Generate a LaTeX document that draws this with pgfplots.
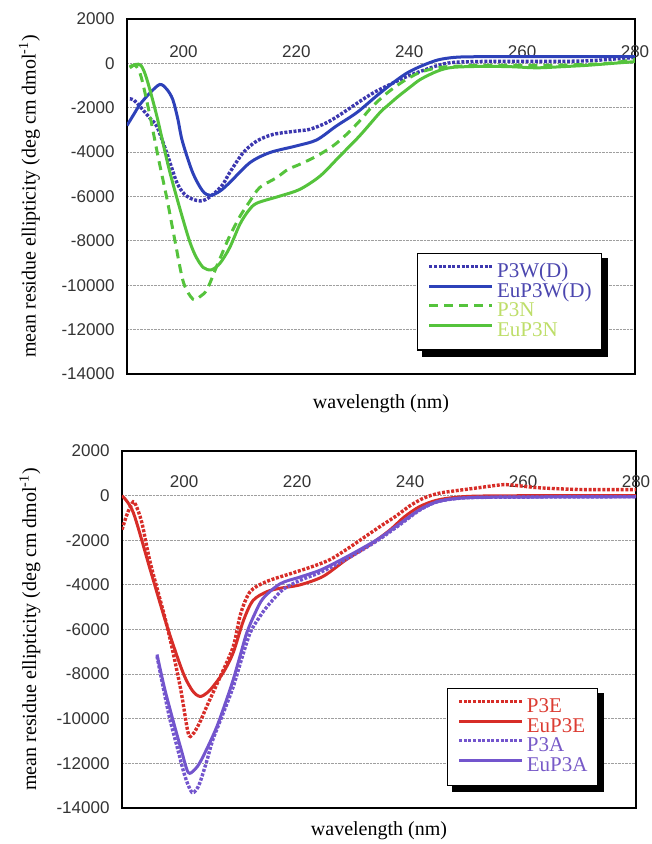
\documentclass[border=0pt]{standalone}
\usepackage{fontspec}
\setmainfont{Liberation Serif}
\newfontfamily\ticksans{Liberation Sans}
\usepackage{pgfplots}
\pgfplotsset{compat=1.18}

\definecolor{bluesolid}{RGB}{45,65,185}
\definecolor{bluedot}{RGB}{60,55,175}
\definecolor{bluetxt}{RGB}{75,70,175}
\definecolor{greenc}{RGB}{85,195,60}
\definecolor{greentxt}{RGB}{190,222,105}
\definecolor{redc}{RGB}{215,45,40}
\definecolor{redtxt}{RGB}{220,60,50}
\definecolor{purc}{RGB}{115,85,205}
\definecolor{purtxt}{RGB}{120,90,200}

\pgfplotsset{
  cdaxis/.style={
    scale only axis,
    anchor=north west,
    xmax=280,
    ymin=-14000, ymax=2000,
    ytick={-14000,-12000,-10000,-8000,-6000,-4000,-2000,0,2000},
    xtick={200,220,240,260,280},
    scaled y ticks=false,
    major tick length=0pt,
    /pgf/number format/1000 sep={},
    /pgf/number format/assume math mode=true,
    ticklabel style={font=\ticksans\fontsize{17}{17}\selectfont, text=black!80},
    xticklabel pos=upper,
    yticklabel style={xshift=-9pt},
    axis line style={line width=1.6pt},
    ymajorgrids,
    grid style={gray!75, densely dotted, line width=1pt},
    xlabel={wavelength (nm)},
    ylabel={mean residue ellipticity (deg cm dmol\textsuperscript{-1})},
    legend cell align=left,
    legend image code/.code={\draw[#1] (0pt,6pt) -- (63pt,6pt);},
    every axis plot/.append style={smooth, tension=0.5, line cap=butt},
  },
  cdlegend/.style={
    legend style={at={#1}, anchor=north west,
      draw=black, line width=1.3pt, fill=white,
      font=\fontsize{21}{21}\selectfont,
      inner xsep=10pt, inner ysep=10pt, row sep=1.5pt,
      nodes={inner sep=0pt, text height=14pt, text depth=4pt},
      /tikz/every odd column/.append style={column sep=3pt}},
  },
  dotline/.style={dash pattern=on 3pt off 1.6pt, line width=3.4pt},
  dashline/.style={dash pattern=on 9pt off 6pt, line width=3pt},
  solidline/.style={line width=3pt},
}

\begin{document}
\begin{tikzpicture}
\useasboundingbox (0,0) rectangle (652pt,-844pt);

% ---- top panel ----
\begin{axis}[
  cdaxis,
  at={(127pt,-19pt)},
  width=508pt, height=355pt,
  xmin=190,
  xticklabel style={anchor=base, inner sep=0pt, yshift=-38pt},
  every axis y label/.style={at={(axis description cs:-0.192,0.5)}, rotate=90, anchor=center, font=\fontsize{20}{20}\selectfont},
  every axis x label/.style={at={(axis description cs:0.5,0)}, yshift=-30pt, anchor=center, font=\fontsize{20}{20}\selectfont},
  cdlegend={(rel axis cs:0.571,0.341)},
  legend style={name=legA},
]
\addplot[bluedot, dotline] coordinates {
(190.5,-1600)(191.2,-1650)(192.5,-2000)(194,-2450)(195.3,-2850)(197,-4000)
(198.8,-5350)(200.2,-5900)(201.7,-6130)(203,-6200)(204,-6130)(205.5,-5850)
(207,-5450)(208.2,-4920)(210.6,-4020)(213,-3500)(215.9,-3200)(220,-3050)
(222.4,-2970)(225.4,-2670)(228.3,-2220)(231.8,-1620)(234.2,-1250)(237,-900)
(239.5,-600)(242,-360)(245,-100)(247.7,40)(253.7,90)(265,90)(272,120)(280,270)};
\addlegendentry{\textcolor{bluetxt}{P3W(D)}}
\addplot[bluesolid, solidline] coordinates {
(190,-2800)(191.2,-2300)(192.3,-1850)(194,-1350)(195.8,-950)(197,-1150)
(198.1,-1620)(199,-2500)(199.8,-3500)(201.6,-4900)(203.4,-5750)(204.8,-5950)
(206.5,-5750)(208.2,-5370)(211.8,-4470)(215.3,-4020)(220,-3720)(223.6,-3450)
(227.1,-2820)(230.7,-2220)(234.2,-1470)(237,-900)(239.5,-450)(242,-135)
(245,150)(248,270)(252,300)(265,300)(280,300)};
\addlegendentry{\textcolor{bluetxt}{EuP3W(D)}}
\addplot[greenc, dashline] coordinates {
(190.5,-150)(191.5,-100)(192.5,-600)(194.1,-2400)(195.5,-4200)(197.1,-6130)
(198.5,-8000)(200,-9870)(201.7,-10630)(203,-10500)(204.2,-10180)(205.9,-9140)
(207.3,-8300)(208.2,-7780)(210,-6900)(211.8,-6200)(213.5,-5600)(216.5,-5150)
(218.5,-4780)(220.6,-4550)(223.6,-4180)(226.5,-3720)(228.9,-3200)(231.2,-2600)
(233,-2070)(234.8,-1620)(236.5,-1250)(239,-800)(241.9,-405)(245,-200)
(247.7,-135)(253.7,-90)(265,-90)(275,0)(280,180)};
\addlegendentry{\textcolor{greentxt}{P3N}}
\addplot[greenc, solidline] coordinates {
(190.5,-200)(191.5,-50)(192.5,-100)(193.5,-700)(195.3,-2390)(197.6,-4910)
(200.6,-7620)(202,-8600)(203.5,-9200)(205,-9300)(206.5,-9000)(208.2,-8300)
(210,-7250)(211.5,-6650)(213,-6300)(217.1,-5980)(220.6,-5680)(224.2,-5080)
(227.7,-4180)(231.2,-3270)(234.8,-2220)(236,-1940)(238,-1500)(240,-1100)
(242,-720)(245,-350)(247.7,-180)(253,-135)(258,-150)(262.6,-200)
(267,-150)(271.4,-90)(276,0)(280,80)};
\addlegendentry{\textcolor{greentxt}{EuP3N}}
\end{axis}
% legend shadow (right and bottom strips)
\fill[black] ([yshift=-5pt]legA.north east) rectangle ([xshift=6pt,yshift=-6pt]legA.south east);
\fill[black] ([xshift=5pt]legA.south west) rectangle ([xshift=6pt,yshift=-6pt]legA.south east);

% ---- bottom panel ----
\begin{axis}[
  cdaxis,
  at={(122pt,-451pt)},
  width=514pt, height=357pt,
  xmin=189,
  xticklabel style={anchor=base, inner sep=0pt, yshift=-36pt},
  every axis y label/.style={at={(axis description cs:-0.179,0.5)}, rotate=90, anchor=center, font=\fontsize{20}{20}\selectfont},
  every axis x label/.style={at={(axis description cs:0.5,0)}, yshift=-23pt, anchor=center, font=\fontsize{20}{20}\selectfont},
  cdlegend={(rel axis cs:0.632,0.336)},
  legend style={name=legB},
]
\addplot[redc, dotline] coordinates {
(189,-1520)(189.8,-900)(190.5,-490)(191.2,-300)(192.5,-1200)(194,-3000)
(197,-5870)(199.3,-8560)(200.7,-10620)(201.5,-10700)(202.7,-10200)(204,-9450)
(206.4,-8110)(208.7,-6760)(210,-5300)(211.7,-4300)(214.6,-3850)(219.3,-3460)
(222.8,-3170)(225.8,-2870)(228.7,-2420)(231.7,-1900)(234.6,-1400)(237.6,-900)
(240,-450)(242.5,-100)(245,100)(247.5,200)(252,350)(256.4,490)(259,450)
(262.4,360)(267,300)(271.2,270)(280,270)};
\addlegendentry{\textcolor{redtxt}{P3E}}
\addplot[redc, solidline] coordinates {
(189,0)(191,-760)(194,-3320)(197,-5870)(199.8,-7930)(201.5,-8750)(202.8,-9000)
(204,-8850)(205.1,-8560)(207,-7900)(208.7,-7030)(210.5,-5600)(212.2,-4700)
(214.7,-4300)(217,-4150)(220.5,-4000)(224.6,-3620)(228.7,-2870)(232.9,-2200)
(236.4,-1550)(239,-950)(241.7,-490)(244.5,-220)(247.5,-90)(252,-20)(265,0)(280,0)};
\addlegendentry{\textcolor{redtxt}{EuP3E}}
\addplot[purc, dotline] coordinates {
(195.2,-7200)(196.3,-8600)(197.5,-10040)(198.7,-11200)(199.8,-12280)
(200.6,-12900)(201.4,-13300)(202.1,-13200)(202.8,-12860)(204,-11900)
(205.1,-10930)(207,-9700)(208.7,-8560)(210.2,-7300)(211.7,-6140)(213.2,-5500)
(214.7,-4970)(217.5,-4210)(220.5,-3800)(224,-3450)(227.6,-3000)(231.1,-2500)
(234.6,-1950)(238.2,-1300)(241.7,-650)(244.5,-300)(247.5,-150)(252,-80)
(265,-60)(280,-50)};
\addlegendentry{\textcolor{purtxt}{P3A}}
\addplot[purc, solidline] coordinates {
(195.2,-7120)(196.5,-8600)(198,-10040)(199.5,-11400)(200.7,-12400)(201.8,-12300)
(202.8,-11960)(204.3,-11200)(205.8,-10350)(207.3,-9300)(208.7,-8240)(210,-7100)
(211.1,-6140)(212.5,-5300)(214,-4600)(217,-3950)(220.5,-3650)(224,-3350)
(227.6,-2900)(231.1,-2420)(234.6,-1900)(238.2,-1250)(241.7,-630)(244.5,-300)
(247.5,-150)(252,-80)(265,-60)(280,-50)};
\addlegendentry{\textcolor{purtxt}{EuP3A}}
\end{axis}
\fill[black] ([yshift=-5pt]legB.north east) rectangle ([xshift=6pt,yshift=-6pt]legB.south east);
\fill[black] ([xshift=5pt]legB.south west) rectangle ([xshift=6pt,yshift=-6pt]legB.south east);
\end{tikzpicture}
\end{document}
